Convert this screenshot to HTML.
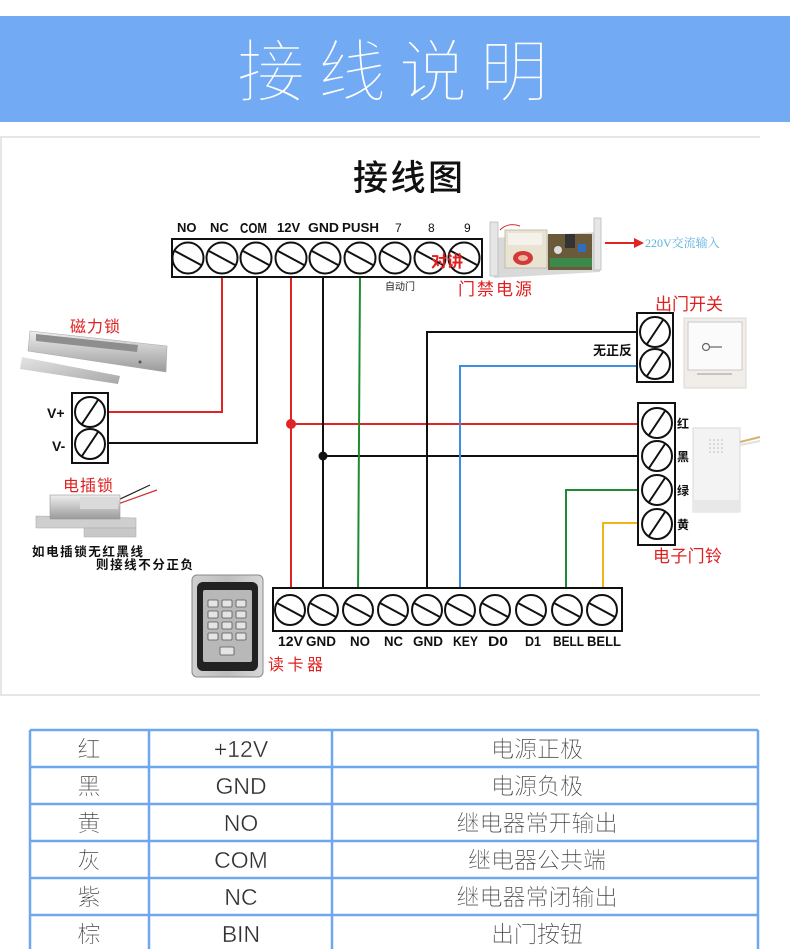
<!DOCTYPE html>
<html><head><meta charset="utf-8"><style>
html,body{margin:0;padding:0;background:#fff;}
body{width:790px;height:949px;overflow:hidden;position:relative;}
svg{position:absolute;left:0;top:0;}
</style></head><body>
<svg width="790" height="949" viewBox="0 0 790 949" xmlns="http://www.w3.org/2000/svg">
<defs>
<linearGradient id="silver" x1="0" y1="0" x2="0" y2="1">
<stop offset="0" stop-color="#eeeeee"/><stop offset="0.5" stop-color="#c4c4c4"/><stop offset="1" stop-color="#9a9a9a"/>
</linearGradient>
<linearGradient id="silver2" x1="0" y1="0" x2="1" y2="1">
<stop offset="0" stop-color="#e4e4e4"/><stop offset="1" stop-color="#a8a8a8"/>
</linearGradient>
<linearGradient id="metal" x1="0" y1="0" x2="1" y2="0">
<stop offset="0" stop-color="#d0d0d0"/><stop offset="0.5" stop-color="#bdbdbd"/><stop offset="1" stop-color="#d8d8d8"/>
</linearGradient>
</defs>

<!-- header -->
<rect x="0" y="16" width="790" height="106" fill="#72aaf4"/>
<text x="237" y="96" font-size="68" font-weight="200" fill="#ffffff" stroke="#72aaf4" stroke-width="1.4" textLength="311" lengthAdjust="spacing" font-family="'Noto Sans CJK SC',sans-serif">接线说明</text>

<!-- diagram panel -->
<line x1="0" y1="137" x2="760" y2="137" stroke="#e6e6e6" stroke-width="2"/>
<line x1="0" y1="695" x2="760" y2="695" stroke="#e6e6e6" stroke-width="2"/>
<line x1="1" y1="137" x2="1" y2="695" stroke="#e6e6e6" stroke-width="2"/>

<text x="353" y="190" font-size="35" font-weight="500" fill="#111" font-family="'Noto Sans CJK SC',sans-serif" textLength="110" lengthAdjust="spacing">接线图</text>

<!-- wires -->
<g fill="none" stroke-width="2">
<polyline points="222,275 222,412 106,412" stroke="#e02424"/>
<polyline points="257,275 257,443 106,443" stroke="#111"/>
<line x1="291" y1="275" x2="291" y2="598" stroke="#e02424"/>
<line x1="291" y1="424" x2="642" y2="424" stroke="#e02424"/>
<line x1="323" y1="275" x2="323" y2="598" stroke="#111"/>
<line x1="323" y1="456" x2="642" y2="456" stroke="#111"/>
<line x1="360" y1="275" x2="358" y2="598" stroke="#1f8a33"/>
<polyline points="427,598 427,332 640,332" stroke="#111"/>
<polyline points="460,598 460,366 640,366" stroke="#3a8fe0"/>
<polyline points="566,598 566,490 642,490" stroke="#1f8a33"/>
<polyline points="603,598 603,523 642,523" stroke="#f2b31c"/>
</g>
<circle cx="291" cy="424" r="5" fill="#e02424"/>
<circle cx="323" cy="456" r="4.5" fill="#111"/>

<!-- top terminal block -->
<rect x="172" y="239" width="310" height="38" fill="#fff" stroke="#111" stroke-width="2"/>
<g fill="#fff" stroke="#111" stroke-width="2">
<circle cx="188" cy="258" r="15.5"/><circle cx="222" cy="258" r="15.5"/><circle cx="256" cy="258" r="15.5"/>
<circle cx="291" cy="258" r="15.5"/><circle cx="325" cy="258" r="15.5"/><circle cx="360" cy="258" r="15.5"/>
<circle cx="395" cy="258" r="15.5"/><circle cx="430" cy="258" r="15.5"/><circle cx="464" cy="258" r="15.5"/>
</g>
<g stroke="#111" stroke-width="2">
<line x1="175" y1="251" x2="201" y2="265"/><line x1="209" y1="251" x2="235" y2="265"/><line x1="243" y1="251" x2="269" y2="265"/>
<line x1="278" y1="251" x2="304" y2="265"/><line x1="312" y1="251" x2="338" y2="265"/><line x1="347" y1="251" x2="373" y2="265"/>
<line x1="382" y1="251" x2="408" y2="265"/><line x1="417" y1="251" x2="443" y2="265"/><line x1="451" y1="251" x2="477" y2="265"/>
</g>
<g font-family="'Liberation Sans',sans-serif" font-weight="bold" font-size="13" fill="#111">
<text x="177" y="232">NO</text><text x="210" y="232">NC</text>
<text x="240" y="233" font-size="15" textLength="27" lengthAdjust="spacingAndGlyphs">COM</text>
<text x="277" y="232">12V</text><text x="308" y="232" textLength="31" lengthAdjust="spacingAndGlyphs">GND</text>
<text x="342" y="232" textLength="37" lengthAdjust="spacingAndGlyphs">PUSH</text>
<text x="395" y="232" font-weight="normal" font-size="12">7</text><text x="428" y="232" font-weight="normal" font-size="12">8</text><text x="464" y="232" font-weight="normal" font-size="12">9</text>
</g>
<text x="431" y="267" font-size="16" font-weight="bold" fill="#e02020" font-family="'Noto Sans CJK SC',sans-serif">对讲</text>
<text x="385" y="290" font-size="10" fill="#222" font-family="'Noto Sans CJK SC',sans-serif">自动门</text>
<text x="458" y="295" font-size="17" fill="#e02020" font-family="'Noto Sans CJK SC',sans-serif" textLength="74" lengthAdjust="spacing">门禁电源</text>

<!-- power supply image -->
<g>
<polygon points="492,238 598,232 600,272 494,278" fill="#d9d9d9"/>
<rect x="490" y="222" width="8" height="54" fill="#e6e6e6" stroke="#bbb" stroke-width="0.8"/>
<rect x="594" y="218" width="7" height="52" fill="#e6e6e6" stroke="#bbb" stroke-width="0.8"/>
<rect x="505" y="230" width="42" height="38" fill="#e9e4d2" stroke="#b8b2a0" stroke-width="0.8"/>
<rect x="508" y="233" width="34" height="12" fill="#f4f2ea"/>
<ellipse cx="523" cy="258" rx="10" ry="7" fill="#d23a3a"/>
<ellipse cx="523" cy="258" rx="5" ry="3" fill="#eeb8a8"/>
<rect x="548" y="234" width="44" height="36" fill="#6a5a3a"/>
<rect x="565" y="234" width="10" height="14" fill="#333"/>
<circle cx="558" cy="250" r="4" fill="#ddd"/>
<rect x="578" y="244" width="8" height="8" fill="#2e6ec0"/>
<rect x="550" y="258" width="42" height="9" fill="#3c8a4a"/>
<path d="M500,230 q8,-8 20,-4" stroke="#d03030" fill="none" stroke-width="1"/>
</g>
<line x1="605" y1="243" x2="636" y2="243" stroke="#e02424" stroke-width="2"/>
<polygon points="634,238 644,243 634,248" fill="#e02424"/>
<text x="645" y="247" font-size="12" fill="#5ab2de" font-family="'Liberation Serif','Noto Serif CJK SC',serif">220V交流输入</text>

<!-- exit switch terminal -->
<rect x="637" y="313" width="36" height="69" fill="#fff" stroke="#111" stroke-width="2"/>
<g fill="#fff" stroke="#111" stroke-width="2">
<circle cx="655" cy="332" r="15"/><circle cx="655" cy="364" r="15"/>
</g>
<g stroke="#111" stroke-width="2">
<line x1="647" y1="344" x2="663" y2="320"/><line x1="647" y1="376" x2="663" y2="352"/>
</g>
<text x="593" y="355" font-size="13" font-weight="bold" fill="#111" font-family="'Noto Sans CJK SC',sans-serif">无正反</text>
<text x="655" y="310" font-size="17" fill="#e02020" font-family="'Noto Sans CJK SC',sans-serif" textLength="68" lengthAdjust="spacing">出门开关</text>
<!-- exit switch image -->
<rect x="684" y="318" width="62" height="70" fill="#f1eeea" stroke="#dcd8d2" stroke-width="1"/>
<rect x="688" y="322" width="54" height="48" fill="#fbfbfb" stroke="#c8c8c8" stroke-width="1"/>
<circle cx="706" cy="347" r="3.5" fill="none" stroke="#666" stroke-width="1.2"/>
<line x1="710" y1="347" x2="722" y2="347" stroke="#666" stroke-width="1.2"/>
<line x1="697" y1="374" x2="732" y2="374" stroke="#999" stroke-width="1"/>

<!-- bell terminal -->
<rect x="638" y="403" width="37" height="142" fill="#fff" stroke="#111" stroke-width="2"/>
<g fill="#fff" stroke="#111" stroke-width="2">
<circle cx="657" cy="423" r="15"/><circle cx="657" cy="456" r="15"/><circle cx="657" cy="490" r="15"/><circle cx="657" cy="524" r="15"/>
</g>
<g stroke="#111" stroke-width="2">
<line x1="649" y1="435" x2="665" y2="411"/><line x1="649" y1="468" x2="665" y2="444"/>
<line x1="649" y1="502" x2="665" y2="478"/><line x1="649" y1="536" x2="665" y2="512"/>
</g>
<g font-size="12" font-weight="bold" fill="#111" font-family="'Noto Sans CJK SC',sans-serif">
<text x="677" y="428">红</text><text x="677" y="461">黑</text><text x="677" y="495">绿</text><text x="677" y="529">黄</text>
</g>
<text x="653" y="562" font-size="17" fill="#e02020" font-family="'Noto Sans CJK SC',sans-serif" textLength="69" lengthAdjust="spacing">电子门铃</text>
<!-- bell image -->
<rect x="693" y="428" width="47" height="84" fill="#f3f3f3" stroke="#dadada" stroke-width="1"/>
<rect x="693" y="500" width="47" height="12" fill="#e8e8e8"/>
<g fill="#bbb">
<circle cx="710" cy="440" r="0.8"/><circle cx="714" cy="440" r="0.8"/><circle cx="718" cy="440" r="0.8"/><circle cx="722" cy="440" r="0.8"/>
<circle cx="710" cy="444" r="0.8"/><circle cx="714" cy="444" r="0.8"/><circle cx="718" cy="444" r="0.8"/><circle cx="722" cy="444" r="0.8"/>
<circle cx="710" cy="448" r="0.8"/><circle cx="714" cy="448" r="0.8"/><circle cx="718" cy="448" r="0.8"/><circle cx="722" cy="448" r="0.8"/>
<circle cx="710" cy="452" r="0.8"/><circle cx="714" cy="452" r="0.8"/><circle cx="718" cy="452" r="0.8"/><circle cx="722" cy="452" r="0.8"/>
</g>
<path d="M740,442 L760,437" stroke="#d8b070" stroke-width="2"/>
<path d="M740,445 L760,441" stroke="#e0e0e0" stroke-width="2"/>

<!-- V+/V- block -->
<rect x="72" y="393" width="36" height="70" fill="#fff" stroke="#111" stroke-width="2"/>
<g fill="#fff" stroke="#111" stroke-width="2">
<circle cx="90" cy="412" r="15"/><circle cx="90" cy="444" r="15"/>
</g>
<g stroke="#111" stroke-width="2">
<line x1="82" y1="424" x2="98" y2="400"/><line x1="82" y1="456" x2="98" y2="432"/>
</g>
<g font-family="'Liberation Sans',sans-serif" font-weight="bold" font-size="14" fill="#111">
<text x="47" y="418">V+</text><text x="52" y="451">V-</text>
</g>

<!-- magnetic lock -->
<text x="70" y="332" font-size="16" fill="#e02020" font-family="'Noto Sans CJK SC',sans-serif" textLength="50" lengthAdjust="spacing">磁力锁</text>
<polygon points="22,357 120,376 118,384 20,369" fill="url(#silver2)"/>
<polygon points="30,331 167,346 166,372 28,351" fill="url(#silver)" stroke="#aaa" stroke-width="0.6"/>
<polygon points="36,334 138,345 137,352 36,341" fill="#8e8e8e"/>
<circle cx="140" cy="362" r="1.5" fill="#555"/>

<!-- electric bolt -->
<text x="63" y="491" font-size="16" fill="#e02020" font-family="'Noto Sans CJK SC',sans-serif" textLength="50" lengthAdjust="spacing">电插锁</text>
<path d="M118,500 L150,485" stroke="#222" stroke-width="1.2" fill="none"/>
<path d="M118,504 L157,490" stroke="#d03030" stroke-width="1.2" fill="none"/>
<polygon points="36,516 136,518 136,528 36,528" fill="#cfcfcf" stroke="#aaa" stroke-width="0.6"/>
<rect x="50" y="495" width="70" height="24" fill="url(#silver)" stroke="#999" stroke-width="0.6"/>
<rect x="80" y="497" width="38" height="12" fill="#dadada"/>
<rect x="84" y="528" width="52" height="9" fill="#c8c8c8" stroke="#aaa" stroke-width="0.5"/>
<text x="32" y="556" font-size="12.5" font-weight="bold" fill="#111" font-family="'Noto Sans CJK SC',sans-serif" textLength="111" lengthAdjust="spacing">如电插锁无红黑线</text>
<text x="96" y="569" font-size="12.5" font-weight="bold" fill="#111" font-family="'Noto Sans CJK SC',sans-serif" textLength="97" lengthAdjust="spacing">则接线不分正负</text>

<!-- card reader -->
<rect x="192" y="575" width="71" height="102" rx="5" fill="url(#metal)" stroke="#8a8a8a" stroke-width="1"/>
<rect x="197" y="582" width="61" height="89" rx="6" fill="#222"/>
<rect x="203" y="590" width="49" height="72" rx="2" fill="#b8b8b8"/>
<g fill="#e4e4e4" stroke="#555" stroke-width="0.8">
<rect x="208" y="600" width="10" height="7" rx="1"/><rect x="222" y="600" width="10" height="7" rx="1"/><rect x="236" y="600" width="10" height="7" rx="1"/>
<rect x="208" y="611" width="10" height="7" rx="1"/><rect x="222" y="611" width="10" height="7" rx="1"/><rect x="236" y="611" width="10" height="7" rx="1"/>
<rect x="208" y="622" width="10" height="7" rx="1"/><rect x="222" y="622" width="10" height="7" rx="1"/><rect x="236" y="622" width="10" height="7" rx="1"/>
<rect x="208" y="633" width="10" height="7" rx="1"/><rect x="222" y="633" width="10" height="7" rx="1"/><rect x="236" y="633" width="10" height="7" rx="1"/>
<rect x="220" y="647" width="14" height="8" rx="1"/>
</g>
<text x="268" y="670" font-size="16" fill="#e02020" font-family="'Noto Sans CJK SC',sans-serif" textLength="55" lengthAdjust="spacing">读卡器</text>

<!-- bottom terminal block -->
<rect x="273" y="588" width="349" height="43" fill="#fff" stroke="#111" stroke-width="2"/>
<g fill="#fff" stroke="#111" stroke-width="2">
<circle cx="290" cy="610" r="15"/><circle cx="323" cy="610" r="15"/><circle cx="358" cy="610" r="15"/><circle cx="393" cy="610" r="15"/><circle cx="427" cy="610" r="15"/>
<circle cx="460" cy="610" r="15"/><circle cx="495" cy="610" r="15"/><circle cx="531" cy="610" r="15"/><circle cx="567" cy="610" r="15"/><circle cx="602" cy="610" r="15"/>
</g>
<g stroke="#111" stroke-width="2">
<line x1="277" y1="603" x2="303" y2="617"/><line x1="310" y1="603" x2="336" y2="617"/><line x1="345" y1="603" x2="371" y2="617"/>
<line x1="380" y1="603" x2="406" y2="617"/><line x1="414" y1="603" x2="440" y2="617"/><line x1="447" y1="603" x2="473" y2="617"/>
<line x1="482" y1="603" x2="508" y2="617"/><line x1="518" y1="603" x2="544" y2="617"/><line x1="554" y1="603" x2="580" y2="617"/>
<line x1="589" y1="603" x2="615" y2="617"/>
</g>
<g font-family="'Liberation Sans',sans-serif" font-weight="bold" font-size="14" fill="#111">
<text x="278" y="646" textLength="25" lengthAdjust="spacingAndGlyphs">12V</text>
<text x="306" y="646" textLength="30" lengthAdjust="spacingAndGlyphs">GND</text>
<text x="350" y="646" textLength="20" lengthAdjust="spacingAndGlyphs">NO</text>
<text x="384" y="646" textLength="19" lengthAdjust="spacingAndGlyphs">NC</text>
<text x="413" y="646" textLength="30" lengthAdjust="spacingAndGlyphs">GND</text>
<text x="453" y="646" textLength="25" lengthAdjust="spacingAndGlyphs">KEY</text>
<text x="488" y="646" textLength="20" lengthAdjust="spacingAndGlyphs">D0</text>
<text x="525" y="646" textLength="16" lengthAdjust="spacingAndGlyphs">D1</text>
<text x="553" y="646" textLength="31" lengthAdjust="spacingAndGlyphs">BELL</text>
<text x="587" y="646" textLength="34" lengthAdjust="spacingAndGlyphs">BELL</text>
</g>

<!-- table -->
<g stroke="#6fa7ef" stroke-width="2.5" fill="none">
<line x1="30" y1="730" x2="758" y2="730"/>
<line x1="30" y1="767" x2="758" y2="767"/>
<line x1="30" y1="804" x2="758" y2="804"/>
<line x1="30" y1="841" x2="758" y2="841"/>
<line x1="30" y1="878" x2="758" y2="878"/>
<line x1="30" y1="915" x2="758" y2="915"/>
<line x1="30" y1="730" x2="30" y2="949"/>
<line x1="149" y1="730" x2="149" y2="949"/>
<line x1="332" y1="730" x2="332" y2="949"/>
<line x1="758" y1="730" x2="758" y2="949"/>
</g>
<g font-size="23" font-weight="300" fill="#333" stroke="#ffffff" stroke-width="0.35" text-anchor="middle" font-family="'Liberation Sans','Noto Sans CJK SC',sans-serif">
<text x="89" y="757">红</text><text x="241" y="757">+12V</text><text x="537" y="757">电源正极</text>
<text x="89" y="794">黑</text><text x="241" y="794">GND</text><text x="537" y="794">电源负极</text>
<text x="89" y="831">黄</text><text x="241" y="831">NO</text><text x="537" y="831">继电器常开输出</text>
<text x="89" y="868">灰</text><text x="241" y="868">COM</text><text x="537" y="868">继电器公共端</text>
<text x="89" y="905">紫</text><text x="241" y="905">NC</text><text x="537" y="905">继电器常闭输出</text>
<text x="89" y="942">棕</text><text x="241" y="942">BIN</text><text x="537" y="942">出门按钮</text>
</g>
</svg>
</body></html>
